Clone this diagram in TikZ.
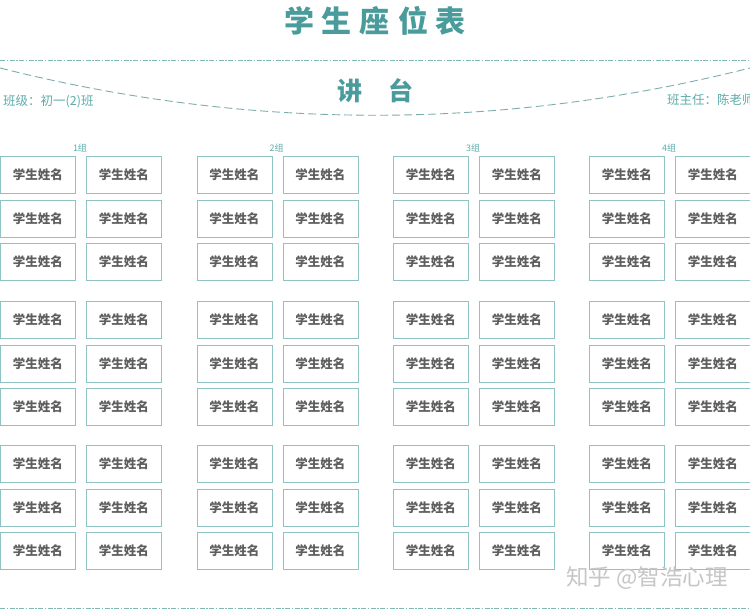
\documentclass[tikz,border=0pt]{standalone}
\usepackage{fontspec}
\newfontfamily\cjk{Noto Sans CJK SC}
\definecolor{teal1}{HTML}{4A9B9B}
\definecolor{teal2}{HTML}{5EABAB}
\definecolor{boxline}{HTML}{8FC3C3}
\definecolor{nametext}{HTML}{5E5E5E}
\definecolor{dashc}{HTML}{7DB9B9}
\tikzset{
  seat/.style={draw=boxline, line width=0.8pt, minimum width=75pt, minimum height=37pt,
    inner sep=0pt, anchor=north west, font=\cjk\bfseries\fontsize{12.5}{14}\selectfont, text=nametext},
  grouplbl/.style={font=\cjk\fontsize{9}{10}\selectfont, text=teal2, inner sep=0pt},
  sidelbl/.style={font=\cjk\fontsize{12.5}{14}\selectfont, text=teal2, inner sep=0pt},
  headline/.style={draw=dashc, line width=0.8pt, dash pattern=on 5pt off 1.5pt on 1.5pt off 1.5pt},
  curveline/.style={draw=dashc!80!gray, line width=0.9pt, dash pattern=on 8pt off 4pt},
}
\begin{document}
\begin{tikzpicture}[x=1pt,y=-1pt]
\useasboundingbox[fill=white] (0,0) rectangle (750,610);
% title
\node[font=\cjk\bfseries\fontsize{30}{32}\selectfont, text=teal1, inner sep=0pt] (title) at (375,21)
  {学\hspace{8pt}生\hspace{8pt}座\hspace{8pt}位\hspace{8pt}表};
% header lines
\coordinate (hl) at (0,60.5);
\coordinate (hr) at (750,60.5);
\draw[headline] (hl) -- (hr);
\coordinate (cl) at (0,68);
\coordinate (cr) at (750,68);
\draw[curveline] (cl) .. controls (250,131) and (500,131) .. (cr);
\node[font=\cjk\bfseries\fontsize{25}{27}\selectfont, text=teal1, inner sep=0pt] (podium) at (375,91)
  {讲\hspace{26pt}台};
\node[sidelbl, anchor=west] (cls) at (3,101) {班级：初一(2)班};
\node[sidelbl, anchor=west] (tch) at (667,100) {班主任：陈老师};
% seats
\foreach \g/\gx in {1/0,2/196.5,3/393,4/589}{
  \node[grouplbl] (glbl\g) at (\gx+80,148) {\g 组};
  \foreach \r/\ry in {1/156,2/199.5,3/243,4/301,5/344.5,6/388,7/445,8/488.5,9/532}{
    \node[seat] (s-\g-\r-1) at (\gx,\ry) {学生姓名};
    \node[seat] (s-\g-\r-2) at (\gx+86,\ry) {学生姓名};
  }
}
% bottom line
\coordinate (bl) at (0,608.5);
\coordinate (br) at (750,608.5);
\draw[headline] (bl) -- (br);
% watermark
\node[font=\cjk\fontsize{22.5}{24}\selectfont, text=gray!45, inner sep=0pt, anchor=west] (wm) at (566,578) {知乎 @智浩心理};
\end{tikzpicture}
\end{document}
